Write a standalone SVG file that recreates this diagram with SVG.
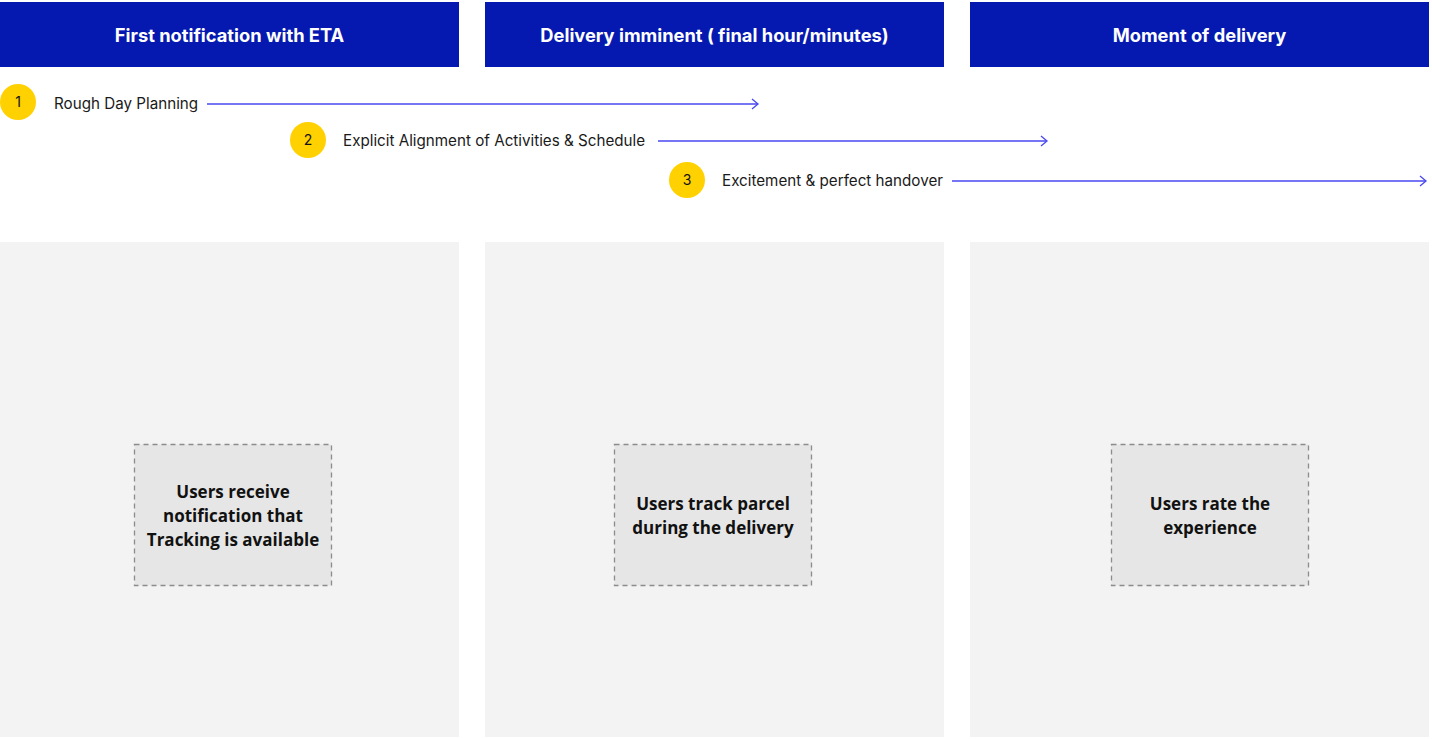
<svg xmlns="http://www.w3.org/2000/svg" width="1432" height="739" viewBox="0 0 1432 739">
<style>
.hdr{fill:#0519B0}
.hdrt{font-family:Inter,"Liberation Sans",sans-serif;font-weight:700;font-size:18.3px;fill:#ffffff;text-anchor:middle}
.panel{fill:#F3F3F3}
.box{fill:#E6E6E6;stroke:#8C8C8C;stroke-width:1.3;stroke-dasharray:5 4}
.boxt{font-family:"Open Sans","Liberation Sans",sans-serif;font-weight:700;font-size:17px;fill:#111111;text-anchor:middle}
.num{fill:#FFD100}
.numt{font-family:Inter,"Liberation Sans",sans-serif;font-size:14px;fill:#111111;text-anchor:middle}
.lbl{font-family:Inter,"Liberation Sans",sans-serif;font-size:15.2px;fill:#1a1a1a}
.arr{stroke:#4848F0;stroke-width:1.3;fill:none}
</style>
<defs>
<marker id="chev" markerWidth="10" markerHeight="12" refX="8" refY="6" orient="auto" markerUnits="userSpaceOnUse">
<path d="M2,1 L8,6 L2,11" fill="none" stroke="#4848F0" stroke-width="1.3"/>
</marker>
</defs>
<rect width="1432" height="739" fill="#ffffff"/>
<g id="header1"><rect class="hdr" x="0" y="2" width="459" height="65"/><text class="hdrt" x="229.5" y="42">First notification with ETA</text></g>
<g id="header2"><rect class="hdr" x="485" y="2" width="459" height="65"/><text class="hdrt" x="714.5" y="42">Delivery imminent ( final hour/minutes)</text></g>
<g id="header3"><rect class="hdr" x="970" y="2" width="459" height="65"/><text class="hdrt" x="1199.5" y="42">Moment of delivery</text></g>
<g id="step1"><circle class="num" cx="18" cy="102" r="18"/><text class="numt" x="18" y="107">1</text><text class="lbl" x="54" y="109">Rough Day Planning</text></g>
<g id="step2"><circle class="num" cx="308" cy="140" r="18"/><text class="numt" x="308" y="145">2</text><text class="lbl" x="343" y="146">Explicit Alignment of Activities &amp; Schedule</text></g>
<g id="step3"><circle class="num" cx="687" cy="180" r="18"/><text class="numt" x="687" y="185">3</text><text class="lbl" x="722" y="186">Excitement &amp; perfect handover</text></g>
<g id="connectors">
<line class="arr" x1="207" y1="104" x2="758" y2="104" marker-end="url(#chev)"/>
<line class="arr" x1="658" y1="141" x2="1047" y2="141" marker-end="url(#chev)"/>
<line class="arr" x1="952" y1="181" x2="1426" y2="181" marker-end="url(#chev)"/>
</g>
<g id="panel1"><rect class="panel" x="0" y="242" width="459" height="495"/><rect class="box" x="134.5" y="444.5" width="197" height="141"/><text class="boxt" x="233" y="498">Users receive</text><text class="boxt" x="233" y="522">notification that</text><text class="boxt" x="233" y="546">Tracking is available</text></g>
<g id="panel2"><rect class="panel" x="485" y="242" width="459" height="495"/><rect class="box" x="614.5" y="444.5" width="197" height="141"/><text class="boxt" x="713" y="510">Users track parcel</text><text class="boxt" x="713" y="534">during the delivery</text></g>
<g id="panel3"><rect class="panel" x="970" y="242" width="459" height="495"/><rect class="box" x="1111.5" y="444.5" width="197" height="141"/><text class="boxt" x="1210" y="510">Users rate the</text><text class="boxt" x="1210" y="534">experience</text></g>
</svg>
